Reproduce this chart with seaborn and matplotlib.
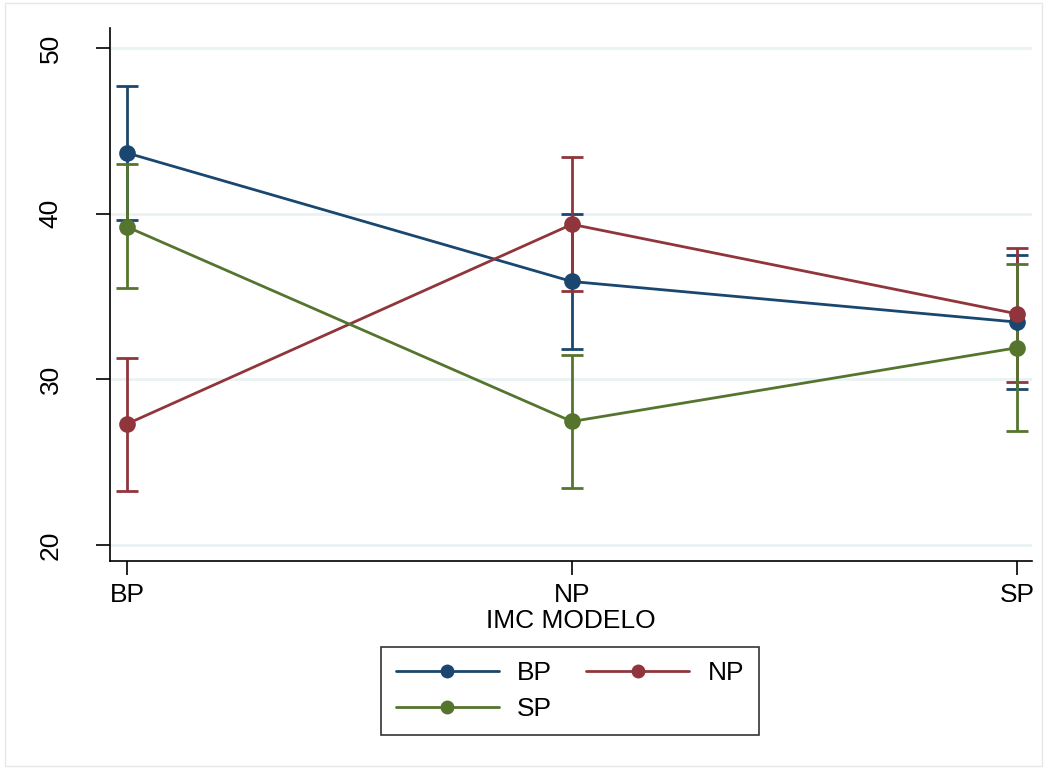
import matplotlib
matplotlib.use("Agg")
import matplotlib.pyplot as plt
import seaborn as sns
import pandas as pd
import numpy as np
from matplotlib.lines import Line2D
from matplotlib.patches import Rectangle

categories = ["BP", "NP", "SP"]
groups = ["BP", "NP", "SP"]
bp_mean = [43.66, 35.9, 33.45]
bp_lo = [39.6, 31.85, 29.4]
bp_hi = [47.7, 40.0, 37.5]
np_mean = [27.3, 39.35, 33.95]
np_lo = [23.25, 35.3, 29.85]
np_hi = [31.3, 43.4, 37.95]
sp_mean = [39.2, 27.45, 31.9]
sp_lo = [35.5, 23.45, 26.85]
sp_hi = [43.0, 31.45, 36.95]
yticks = [20, 30, 40, 50]

colors = {"BP": "#1a476f", "NP": "#90353b", "SP": "#55752f"}

rows = []
for g, m, lo, hi in [("BP", bp_mean, bp_lo, bp_hi), ("NP", np_mean, np_lo, np_hi), ("SP", sp_mean, sp_lo, sp_hi)]:
    for i, c in enumerate(categories):
        rows.append({"group": g, "cat": c, "x": i, "mean": m[i], "lo": lo[i], "hi": hi[i]})
df = pd.DataFrame(rows)

sns.set_theme(style="white")
plt.rcParams["font.family"] = ["Liberation Sans", "DejaVu Sans"]
plt.rcParams["text.color"] = "black"
plt.rcParams["axes.labelcolor"] = "black"
plt.rcParams["xtick.color"] = "black"
plt.rcParams["ytick.color"] = "black"

fig = plt.figure(figsize=(10.47, 7.69), dpi=100)
ax = fig.add_axes([110 / 1047, 1 - 561 / 769, (1032 - 110) / 1047, (561 - 28) / 769])

for y in yticks:
    ax.axhline(y, color="#eaf2f3", lw=2, zorder=0)

for g in groups:
    sub = df[df.group == g]
    ax.errorbar(sub["x"], sub["mean"], yerr=[sub["mean"] - sub["lo"], sub["hi"] - sub["mean"]],
                fmt="none", ecolor=colors[g], elinewidth=2, capsize=8, capthick=2, zorder=2)
    sns.lineplot(data=sub, x="x", y="mean", color=colors[g], marker="o", markersize=12,
                 markeredgewidth=0, linewidth=2, ax=ax, legend=False, zorder=3)

ax.set_xlim(-0.038, 2.034)
ax.set_ylim(19.03, 51.2)
ax.set_xticks(range(len(categories)))
ax.set_xticklabels(categories, fontsize=19)
ax.set_yticks(yticks)
ax.set_yticklabels([str(t) for t in yticks], fontsize=19, rotation=90, va="center")
ax.tick_params(axis="both", direction="out", length=10, width=1.2, color="black", left=True, bottom=True)
ax.tick_params(axis="y", pad=24)
ax.tick_params(axis="x", pad=6)
ax.set_xlabel("IMC MODELO", fontsize=19, labelpad=1)
ax.set_ylabel("")
for s in ["top", "right"]:
    ax.spines[s].set_visible(False)
for s in ["left", "bottom"]:
    ax.spines[s].set_color("black")
    ax.spines[s].set_linewidth(1.2)

handles = {g: Line2D([0], [0], color=colors[g], lw=2, marker="o", markersize=10, markeredgewidth=0) for g in groups}
order = ["BP", "SP", "NP"]
leg = fig.legend([handles[g] for g in order], order, loc="center", bbox_to_anchor=(570 / 1047, 1 - 691 / 769), ncol=2,
                 fontsize=19, handlelength=3.9, columnspacing=1.3, frameon=True, fancybox=False,
                 borderpad=0.55, handletextpad=0.7, labelspacing=0.45)
leg.get_frame().set_edgecolor("black")
leg.get_frame().set_linewidth(1.2)

fig.patches.append(Rectangle((5 / 1047, 3 / 769), 1 - 10 / 1047, 1 - 6 / 769, transform=fig.transFigure,
                             fill=False, edgecolor="#e6e6e6", lw=1))

fig.savefig("out.png", dpi=100)
